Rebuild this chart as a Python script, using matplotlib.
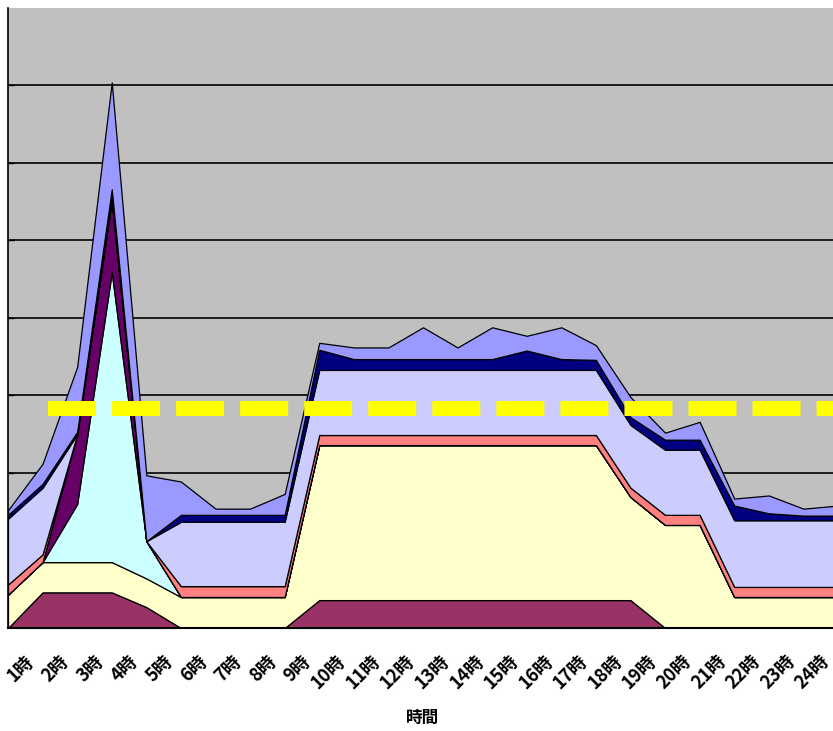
import matplotlib
matplotlib.use("Agg")
from matplotlib import pyplot as plt
from matplotlib import transforms

plt.rcParams['font.family'] = ['Noto Sans CJK JP', 'DejaVu Sans']

# hour positions (0 is the left edge of the axis, labels shown for 1..24)
hours = list(range(25))
hour_labels = [str(h) + '時' for h in range(1, 25)]

# stacked series, bottom to top
maroon = [0, 0.46, 0.46, 0.46, 0.27, 0, 0, 0, 0, 0.36, 0.36, 0.36, 0.36,
          0.36, 0.36, 0.36, 0.36, 0.36, 0.36, 0, 0, 0, 0, 0, 0]
cream = [0.43, 0.39, 0.39, 0.39, 0.37, 0.40, 0.40, 0.40, 0.40, 2.00, 2.00, 2.00, 2.00,
         2.00, 2.00, 2.00, 2.00, 2.00, 1.33, 1.33, 1.33, 0.40, 0.40, 0.40, 0.40]
cyan = [0, 0, 0.75, 3.74, 0.48, 0, 0, 0, 0, 0, 0, 0, 0,
        0, 0, 0, 0, 0, 0, 0, 0, 0, 0, 0, 0]
purple = [0, 0, 0.90, 0.93, 0, 0, 0, 0, 0, 0, 0, 0, 0,
          0, 0, 0, 0, 0, 0, 0, 0, 0, 0, 0, 0]
salmon = [0.13, 0.10, 0, 0, 0, 0.14, 0.14, 0.14, 0.14, 0.13, 0.13, 0.13, 0.13,
          0.13, 0.13, 0.13, 0.13, 0.13, 0.12, 0.13, 0.13, 0.13, 0.13, 0.13, 0.13]
lavender = [0.85, 0.86, 0, 0, 0, 0.83, 0.83, 0.83, 0.83, 0.84, 0.84, 0.84, 0.84,
            0.84, 0.84, 0.84, 0.84, 0.84, 0.81, 0.84, 0.84, 0.86, 0.86, 0.86, 0.86]
navy = [0.05, 0.05, 0.03, 0.14, 0, 0.09, 0.09, 0.09, 0.09, 0.26, 0.14, 0.14, 0.14,
        0.14, 0.14, 0.25, 0.14, 0.13, 0.10, 0.13, 0.13, 0.19, 0.09, 0.06, 0.06]
periwinkle = [0.06, 0.26, 0.84, 1.38, 0.85, 0.43, 0.08, 0.08, 0.27, 0.09, 0.15, 0.15, 0.41,
              0.15, 0.41, 0.19, 0.41, 0.19, 0.26, 0.09, 0.23, 0.09, 0.23, 0.09, 0.13]

threshold = 2.845

colors = ['#993366', '#FFFFCC', '#CCFFFF', '#660066',
          '#FF8080', '#CCCCFF', '#000080', '#9999FF']

fig = plt.figure(figsize=(8.33, 7.31), dpi=100)
ax = fig.add_axes([8 / 833, 103 / 731, 830 / 833, 620 / 731])
ax.set_facecolor('#C0C0C0')

ax.stackplot(hours, maroon, cream, cyan, purple, salmon, lavender, navy, periwinkle,
             colors=colors, edgecolor='black', linewidth=0.9, zorder=2)

# yellow dashed reference line
ax.hlines(threshold, 1, 24, colors='#FFFF00', linewidth=10.8,
          linestyles=(3.97, (3.2, 1.07)), capstyle='butt', zorder=3)

ax.set_xlim(0, 24)
ax.set_ylim(0, 8)
ax.set_yticks(range(1, 8))
ax.set_yticklabels([])
ax.yaxis.grid(True, color='black', linewidth=1.2)
ax.set_axisbelow(True)

ax.set_xticks(range(1, 25))
ax.set_xticklabels(hour_labels, rotation=45, ha='right', fontsize=13, fontweight='bold')
ax.tick_params(axis='x', direction='in', length=4, pad=17, width=1)
ax.tick_params(axis='y', direction='in', length=4, width=1)
shift = transforms.ScaledTranslation(-5 / 100, 0, fig.dpi_scale_trans)
for lab in ax.get_xticklabels():
    lab.set_transform(lab.get_transform() + shift)

ax.set_xlabel('時間', fontsize=12, fontweight='bold')
ax.xaxis.set_label_coords(0.5, -0.13)

for side in ['top', 'right']:
    ax.spines[side].set_visible(False)
ax.spines['left'].set_linewidth(1.2)
ax.spines['bottom'].set_linewidth(1.5)

plt.savefig('out.png', dpi=100)
